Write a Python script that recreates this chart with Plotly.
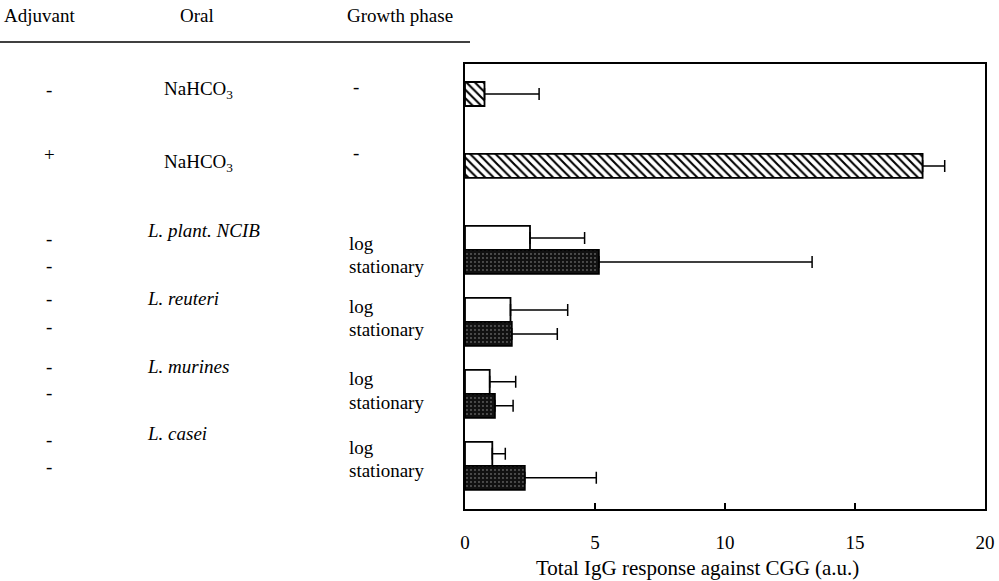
import plotly.graph_objects as go

# ---- data -------------------------------------------------------------
# one entry per bar, top to bottom
bar_ids = [
    "NaHCO3 / no adjuvant",
    "NaHCO3 / adjuvant",
    "L. plant. NCIB / log",
    "L. plant. NCIB / stationary",
    "L. reuteri / log",
    "L. reuteri / stationary",
    "L. murines / log",
    "L. murines / stationary",
    "L. casei / log",
    "L. casei / stationary",
]
igg_response = [0.75, 17.6, 2.5, 5.15, 1.75, 1.8, 0.95, 1.15, 1.05, 2.3]
igg_error = [2.1, 0.85, 2.1, 8.2, 2.2, 1.75, 1.0, 0.7, 0.5, 2.75]
bar_kind = ["control", "control", "log", "stationary", "log", "stationary",
            "log", "stationary", "log", "stationary"]
# group index and slot within the group for every bar
bar_group = [0, 1, 2, 2, 3, 3, 4, 4, 5, 5]
bar_slot = [0, 0, 0, 1, 0, 1, 0, 1, 0, 1]

x_ticks = [0, 5, 10, 15, 20]
x_title = "Total IgG response against CGG (a.u.)"

# table shown to the left of the bars
headers = ["Adjuvant", "Oral", "Growth phase"]
adjuvant_marks = ["-", "+", "-", "-", "-", "-", "-", "-", "-", "-"]
oral_rows = ["NaHCO<sub>3</sub>", "NaHCO<sub>3</sub>"]
species_rows = ["L. plant. NCIB", "L. reuteri", "L. murines", "L. casei"]
phase_rows = ["log", "stationary"]

# ---- layout geometry (pixels in a 999 x 581 page) ---------------------
W, H = 999, 581
L, R, T, B = 465, 985, 64, 509
PW, PH = R - L, B - T

def px(x):
    return (x - L) / PW

def py(y):
    return (B - y) / PH

FONT = "Liberation Serif, Times New Roman, serif"
FS = 19

y_pos = [3 * g + 1.25 + s for g, s in zip(bar_group, bar_slot)]

styles = {
    "control": dict(color="white",
                    pattern=dict(shape="\\", fgcolor="black", bgcolor="white",
                                 size=6, solidity=0.35, fillmode="replace")),
    "log": dict(color="white"),
    "stationary": dict(color="#111111",
                       pattern=dict(shape=".", fgcolor="white", size=4,
                                    solidity=0.1, fgopacity=0.6,
                                    fillmode="overlay")),
}

fig = go.Figure()
for kind in ["control", "log", "stationary"]:
    idx = [i for i, k in enumerate(bar_kind) if k == kind]
    st = styles[kind]
    marker = dict(color=st["color"], line=dict(color="black", width=1.8))
    if "pattern" in st:
        marker["pattern"] = st["pattern"]
    fig.add_trace(go.Bar(
        orientation="h",
        x=[igg_response[i] for i in idx],
        y=[y_pos[i] for i in idx],
        width=1.0,
        name=kind,
        hovertext=[bar_ids[i] for i in idx],
        marker=marker,
        error_x=dict(type="data", symmetric=False,
                     array=[igg_error[i] for i in idx],
                     arrayminus=[0] * len(idx),
                     color="black", thickness=1.5, width=6),
        showlegend=False,
    ))

fig.update_layout(
    width=W, height=H,
    margin=dict(l=L, r=W - R, t=T, b=H - B, pad=0, autoexpand=False),
    paper_bgcolor="white", plot_bgcolor="white",
    font=dict(family=FONT, size=FS, color="black"),
    barmode="overlay",
    xaxis=dict(range=[0, 20], tickvals=x_ticks, ticks="inside", ticklen=6,
               tickwidth=1.5, tickcolor="black", showline=True, linecolor="black",
               linewidth=1.5, mirror=True, showgrid=False, zeroline=False,
               ticklabelstandoff=15, automargin=False),
    yaxis=dict(range=[18.55, 0], showticklabels=False, ticks="", showline=True,
               linecolor="black", linewidth=1.5, mirror=True, showgrid=False,
               zeroline=False, automargin=False),
)

ann = []

def text(x, y, s, anchor="center", italic=False, size=FS):
    ann.append(dict(xref="paper", yref="paper", x=px(x), y=py(y), text=s,
                    showarrow=False, xanchor=anchor, yanchor="middle",
                    font=dict(family=FONT, size=size, color="black",
                              style="italic" if italic else "normal")))

# axis title under the tick labels
text(697, 568, x_title, size=21)

# header row and rule
for hx, h in zip([39, 197, 400], headers):
    text(hx, 16, h)
fig.add_shape(type="line", xref="paper", yref="paper",
              x0=px(0), x1=px(470), y0=py(42), y1=py(42),
              line=dict(color="black", width=1.5))

# adjuvant column
adj_y = [89, 154, 238, 265, 298, 326, 366, 392, 440, 466]
for yy, m in zip(adj_y, adjuvant_marks):
    text(49, yy, m)

# oral column
for yy, s in zip([90, 163], oral_rows):
    text(198, yy, s)
for yy, s in zip([230, 298, 366, 433], species_rows):
    text(145, yy, s, anchor="left", italic=True)

# growth phase column
for yy in [87, 152]:
    text(356, yy, "-")
for ly, sy in zip([243, 306, 378, 447], [266, 329, 402, 470]):
    text(347, ly, phase_rows[0], anchor="left")
    text(347, sy, phase_rows[1], anchor="left")

fig.update_layout(annotations=ann)

fig.write_html("out.html")
